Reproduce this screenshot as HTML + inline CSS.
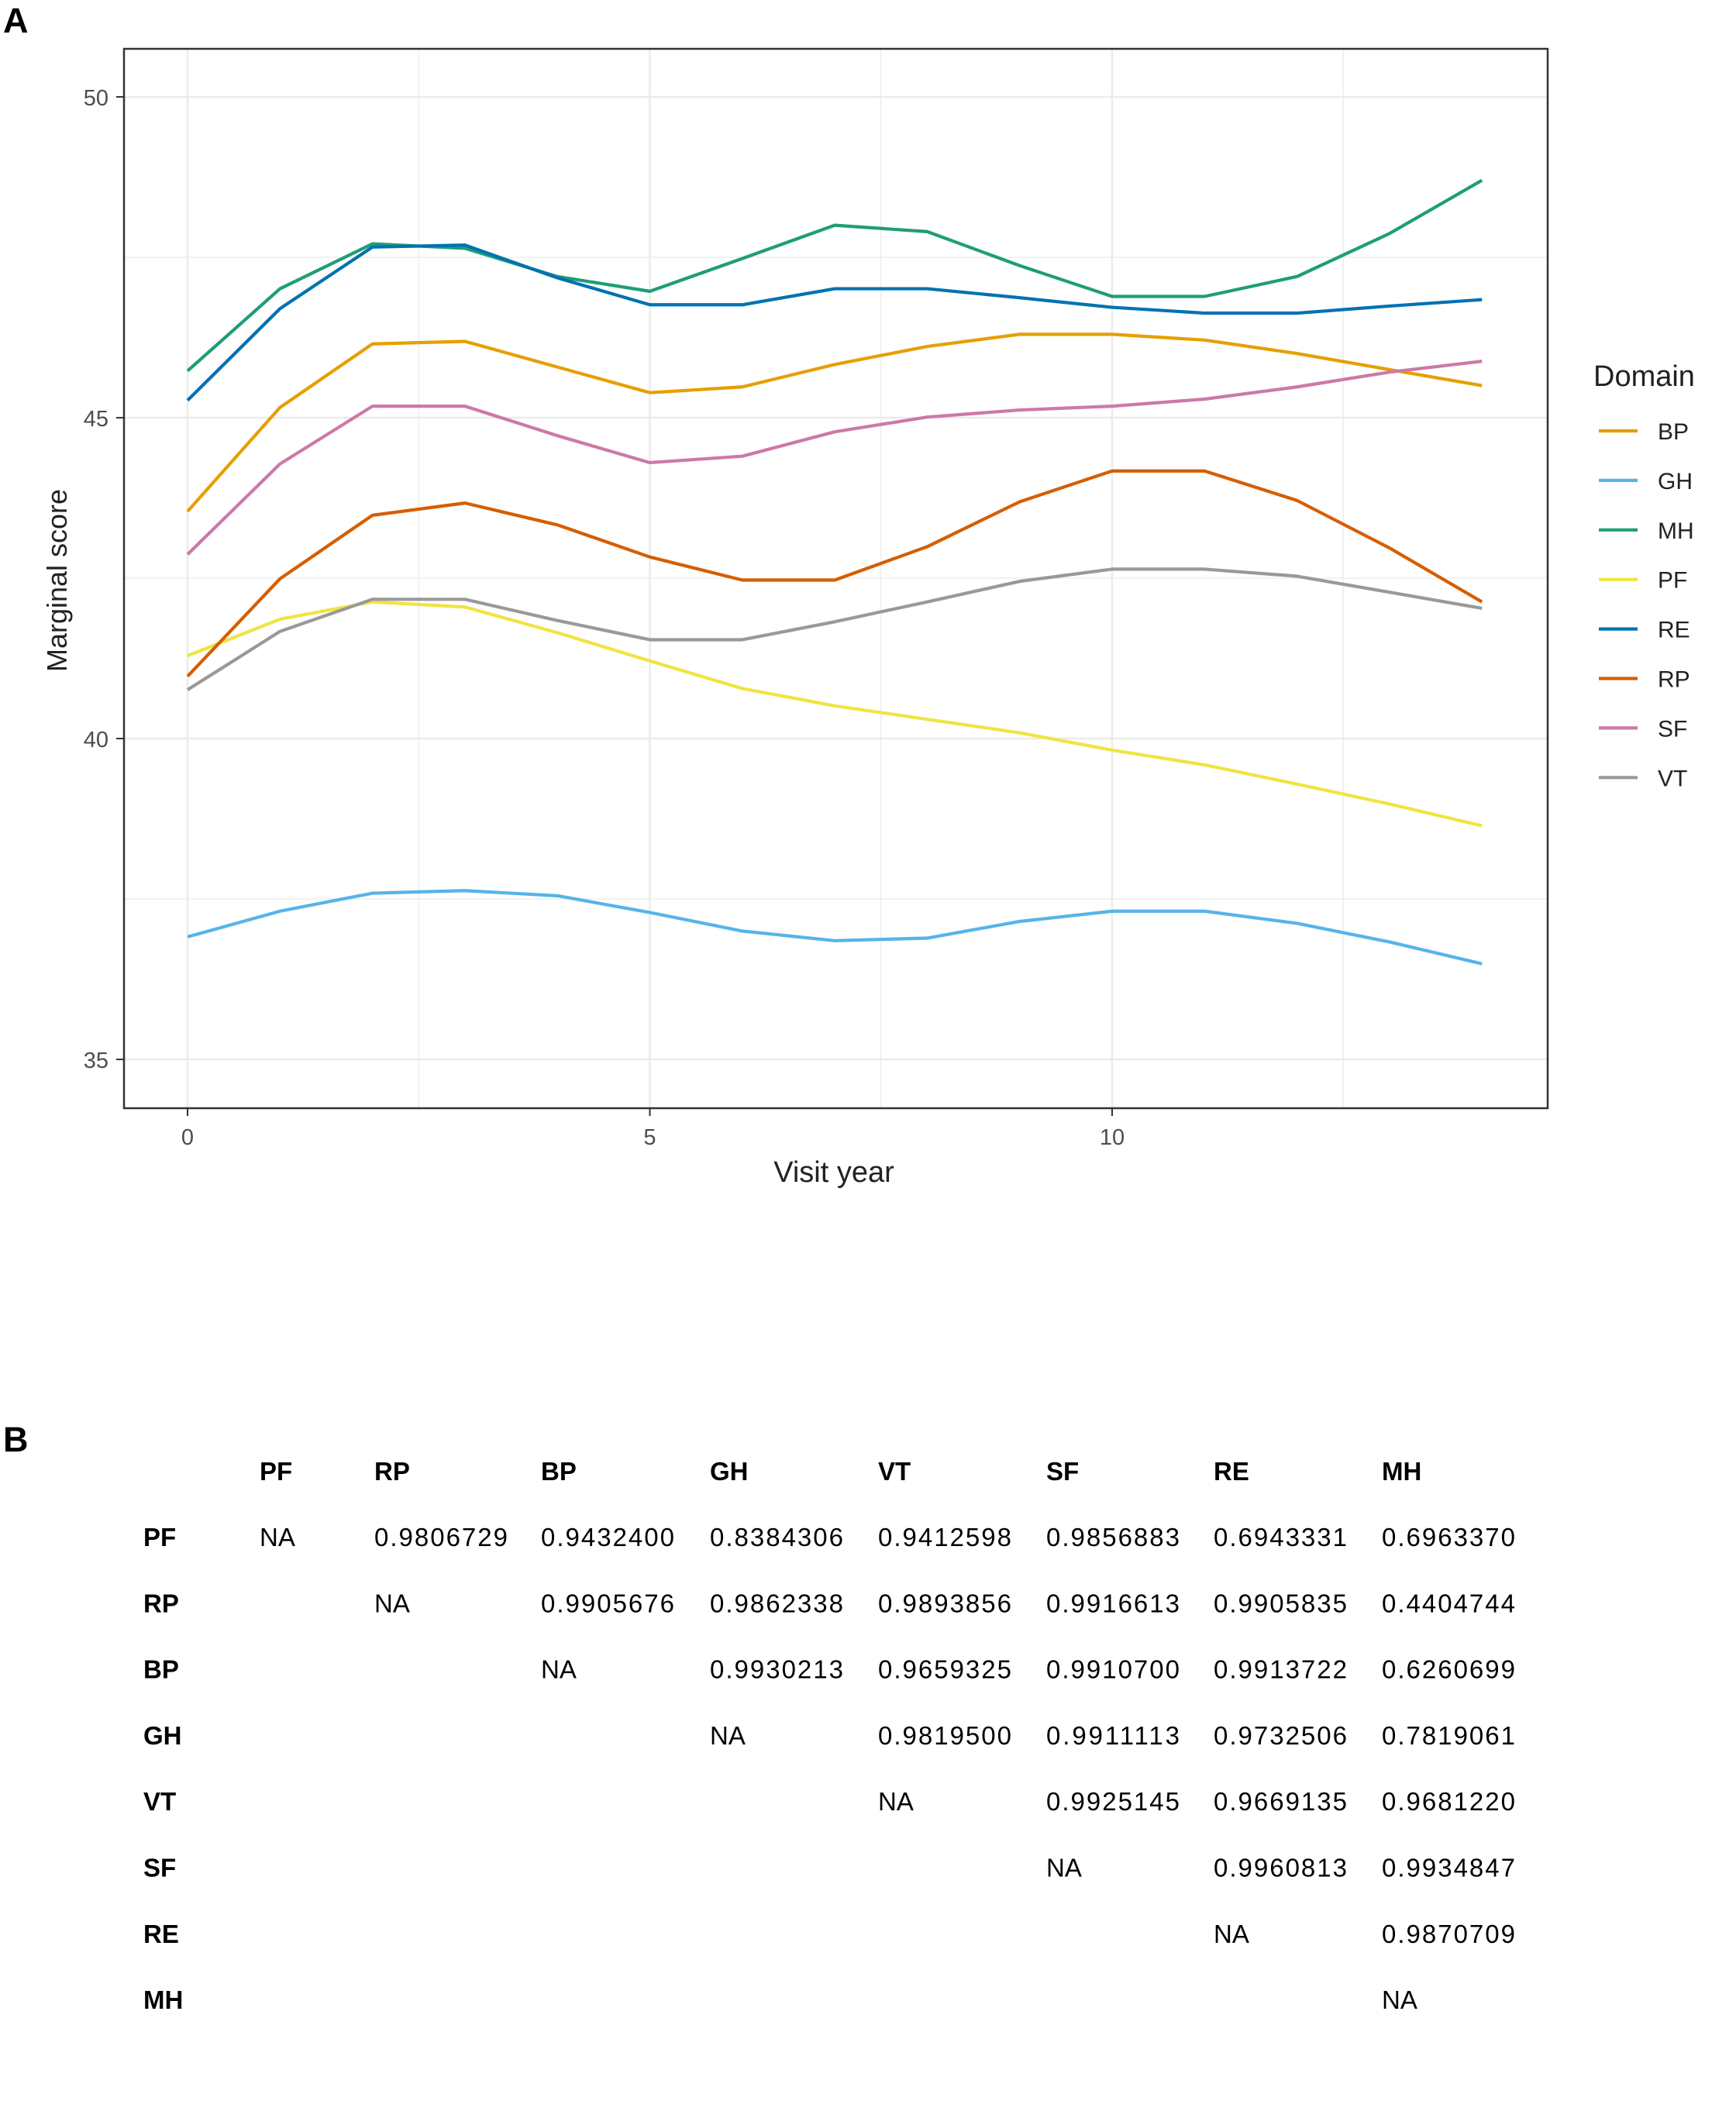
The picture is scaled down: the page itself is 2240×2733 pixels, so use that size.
<!DOCTYPE html>
<html><head><meta charset="utf-8"><style>
body{margin:0;background:#fff;width:2240px;height:2733px;overflow:hidden;font-family:"Liberation Sans",sans-serif}
svg{display:block}
</style></head><body>
<svg id="c" width="2240" height="2733">
<text x="4" y="42" font-size="45" font-weight="bold">A</text>
<text x="4" y="1873" font-size="45" font-weight="bold">B</text>
<g id="grid"></g>
<g id="lines"></g>
<rect x="160" y="63" width="1837" height="1367" fill="none" stroke="#333" stroke-width="2.5"/>
<g id="axes"></g>
<text x="1076" y="1525" font-size="38" text-anchor="middle" fill="#222">Visit year</text>
<text transform="translate(86,749) rotate(-90)" font-size="36" text-anchor="middle" fill="#222">Marginal score</text>
<text x="2056" y="498" font-size="38" fill="#222">Domain</text>
<g id="legend"></g>
<g id="table"></g>
</svg>
<script>
const years=[0,1,2,3,4,5,6,7,8,9,10,11,12,13,14];
const domains=["BP","GH","MH","PF","RE","RP","SF","VT"];
const colors=["#E69F00","#56B4E9","#1F9E74","#F0E442","#0072B2","#D55E00","#CC79A7","#999999"];
const BP=[43.54,45.16,46.15,46.19,45.79,45.39,45.48,45.83,46.11,46.3,46.3,46.21,46.0,45.75,45.5];
const GH=[36.91,37.31,37.59,37.63,37.55,37.29,37.0,36.85,36.89,37.15,37.31,37.31,37.12,36.83,36.49];
const MH=[45.73,47.01,47.71,47.64,47.2,46.97,47.48,48.0,47.9,47.37,46.89,46.89,47.2,47.87,48.7];
const PF=[41.29,41.86,42.13,42.05,41.65,41.21,40.78,40.51,40.3,40.09,39.82,39.59,39.29,38.98,38.64];
const RE=[45.27,46.7,47.66,47.69,47.18,46.76,46.76,47.01,47.01,46.87,46.72,46.63,46.63,46.74,46.84];
const RP=[40.97,42.49,43.48,43.67,43.33,42.83,42.47,42.47,42.99,43.69,44.17,44.17,43.71,42.97,42.13];
const SF=[42.87,44.28,45.18,45.18,44.72,44.3,44.4,44.78,45.01,45.12,45.18,45.29,45.48,45.71,45.88];
const VT=[40.76,41.67,42.17,42.17,41.84,41.54,41.54,41.82,42.13,42.45,42.64,42.64,42.53,42.28,42.03];
const series=[BP,GH,MH,PF,RE,RP,SF,VT];
const yTicks=[35,40,45,50];
const xTicks=[0,5,10];
const colHeads=["PF","RP","BP","GH","VT","SF","RE","MH"];
const tableVals=[
["NA","0.9806729","0.9432400","0.8384306","0.9412598","0.9856883","0.6943331","0.6963370"],
["","NA","0.9905676","0.9862338","0.9893856","0.9916613","0.9905835","0.4404744"],
["","","NA","0.9930213","0.9659325","0.9910700","0.9913722","0.6260699"],
["","","","NA","0.9819500","0.9911113","0.9732506","0.7819061"],
["","","","","NA","0.9925145","0.9669135","0.9681220"],
["","","","","","NA","0.9960813","0.9934847"],
["","","","","","","NA","0.9870709"],
["","","","","","","","NA"]];
const NS="http://www.w3.org/2000/svg";
const X=v=>242+v*119.3, Y=v=>125+(50-v)*82.8;
function mk(p,t,a){const e=document.createElementNS(NS,t);for(const k in a)e.setAttribute(k,a[k]);p.appendChild(e);return e;}
const grid=document.getElementById('grid'),axes=document.getElementById('axes');
for(let v=32.5;v<=52.5;v+=2.5){const y=Y(v);if(y<63||y>1430)continue;const maj=v%5===0;
 const l=mk(grid,'line',{x1:160,x2:1997,y1:y,y2:y,stroke:'#ebebeb','stroke-width':maj?2.5:1.3});
 }
for(let v=-2.5;v<=17.5;v+=2.5){const x=X(v);if(x<160||x>1997)continue;const maj=v%5===0;
 const l=mk(grid,'line',{x1:x,x2:x,y1:63,y2:1430,stroke:'#ebebeb','stroke-width':maj?2.5:1.3});
 }
yTicks.forEach(v=>{const t=mk(axes,'text',{x:140,y:Y(v)+11,'font-size':29,'text-anchor':'end',fill:'#4d4d4d'});t.textContent=v;
 
 mk(axes,'line',{x1:150,x2:160,y1:Y(v),y2:Y(v),stroke:'#333','stroke-width':2});});
xTicks.forEach(v=>{const t=mk(axes,'text',{x:X(v),y:1477,'font-size':29,'text-anchor':'middle',fill:'#4d4d4d'});t.textContent=v;
 
 mk(axes,'line',{x1:X(v),x2:X(v),y1:1430,y2:1440,stroke:'#333','stroke-width':2});});
const lines=document.getElementById('lines'),leg=document.getElementById('legend');
series.forEach((s,i)=>{const p=mk(lines,'polyline',{points:s.map((v,j)=>X(years[j])+','+Y(v)).join(' '),fill:'none',stroke:colors[i],'stroke-width':4.2,'stroke-linejoin':'round'});
 
 const y=556+i*63.9;
 const k=mk(leg,'line',{x1:2063,x2:2113,y1:y,y2:y,stroke:colors[i],'stroke-width':4.2});
 
 const t=mk(leg,'text',{x:2139,y:y+11,'font-size':30,fill:'#222'});t.textContent=domains[i];
 });
const tb=document.getElementById('table');const cx=[335,483,698,916,1133,1350,1566,1783];
colHeads.forEach((h,i)=>{const t=mk(tb,'text',{x:cx[i],y:1910,'font-size':33,'font-weight':'bold'});t.textContent=h;
 });
tableVals.forEach((row,r)=>{const y=1995+r*85.3;
 const t=mk(tb,'text',{x:185,y:y,'font-size':33,'font-weight':'bold'});t.textContent=colHeads[r];
 
 row.forEach((v,c)=>{if(!v)return;const e=mk(tb,'text',{x:cx[c],y:y,'font-size':33});if(v.length>2)e.setAttribute('textLength',172);e.textContent=v;
  });});
</script>
</body></html>
